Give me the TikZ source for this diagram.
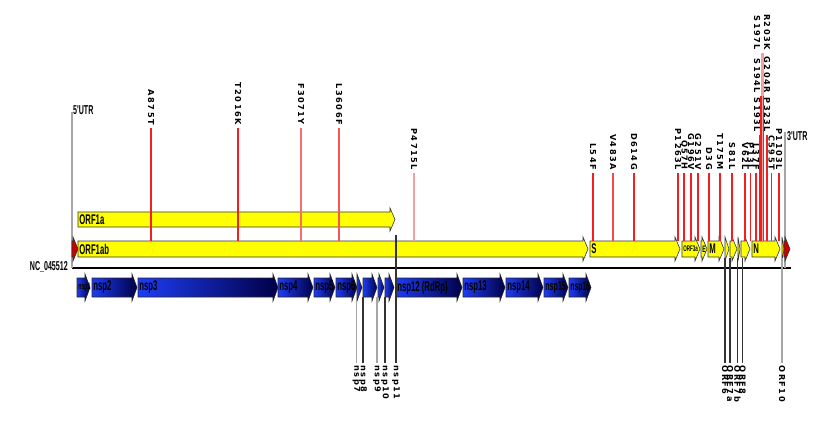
\documentclass[tikz,border=0pt]{standalone}
\usepackage{fontspec}
\setmainfont{Liberation Sans}
\newfontfamily\genefont[FakeStretch=0.55]{Liberation Sans}
\newfontfamily\mutfont[LetterSpace=18]{DejaVu Sans}
\usetikzlibrary{calc}
\definecolor{geneyellow}{RGB}{255,255,0}
\definecolor{nsplight}{RGB}{30,60,245}
\definecolor{nspdark}{RGB}{0,0,70}
\definecolor{mutred}{RGB}{245,30,30}
\definecolor{mutpink}{RGB}{242,160,160}
\definecolor{utrred}{RGB}{200,0,0}

% #1 name, #2 start, #3 end, #4 mid y, #5 half height, #6 style, #7 label
\newcommand{\genearrow}[7]{%
  \pgfmathsetmacro{\headx}{max(#2,#3-5)}
  \path[#6] (#2,#4-#5) -- (\headx,#4-#5) -- (\headx,#4-#5-4) -- (#3,#4)
    -- (\headx,#4+#5+4) -- (\headx,#4+#5) -- (#2,#4+#5) -- cycle;
  \node[genelab] (#1) at (#2,#4) {#7};
}

\begin{document}
\begin{tikzpicture}[
  x=0.03cm, y=-0.03cm,
  orf/.style={fill=geneyellow, draw=black!80, line width=0.5pt},
  nsp/.style={left color=nsplight, right color=nspdark, draw=black!85, line width=0.5pt},
  utr/.style={fill=utrred, draw=black!80, line width=0.5pt},
  genelab/.style={anchor=west, inner sep=1pt, font=\genefont\bfseries\fontsize{12}{12}\selectfont},
  mutlab/.style={rotate=-90, anchor=east, inner sep=2.5pt, font=\mutfont\bfseries\fontsize{7}{7}\selectfont},
  downlab/.style={rotate=-90, anchor=west, inner sep=2pt, font=\mutfont\bfseries\fontsize{7}{7}\selectfont},
  mutline/.style={draw=mutred, line width=1.2pt},
  pinkline/.style={draw=mutpink, line width=1.2pt},
  lowline/.style={draw=black!80, line width=0.9pt},
  greyline/.style={draw=black!35, line width=0.9pt},
  utrlab/.style={inner sep=0pt, font=\genefont\bfseries\fontsize{11}{11}\selectfont}
]
  \useasboundingbox (0,0) rectangle (832,435);

  \coordinate (bartop) at (0,241);
  \coordinate (barbot) at (0,258);
  \coordinate (nspbot) at (0,297);
  \coordinate (gstart) at (72,268);
  \coordinate (gend) at (791,268);

  % genome line
  \draw[line width=1.6pt] (gstart) -- (gend);
  \node[utrlab, anchor=east] (acc) at (68,267) {NC\_045512};

  % UTR markers
  \coordinate (utr5top) at (72,112);
  \coordinate (utr3top) at (785,132);
  \draw[greyline] (utr5top) -- (utr5top |- gstart);
  \draw[greyline] (utr3top) -- (utr3top |- gstart);
  \node[utrlab, anchor=base west] (utr5lab) at (73,114) {5'UTR};
  \node[utrlab, anchor=base west] (utr3lab) at (787,140) {3'UTR};

  % ORFs
  \genearrow{utr5}{72}{78}{249}{8}{utr}{}
  \genearrow{orf1ab}{78}{588}{249}{8}{orf}{ORF1ab}
  \genearrow{orf1a}{78}{395}{219.5}{7.5}{orf}{ORF1a}
  \genearrow{s}{590}{680}{249}{8}{orf}{S}
  \genearrow{orf3a}{682}{700}{249}{8}{orf}{\fontsize{7}{7}\selectfont ORF3a}
  \genearrow{e}{701}{707}{249}{8}{orf}{\fontsize{8}{8}\selectfont E}
  \genearrow{m}{708}{724}{249}{8}{orf}{M}
  \genearrow{orf6}{725}{729}{249}{8}{orf}{}
  \genearrow{orf7a}{730}{737}{249}{8}{orf}{}
  \genearrow{orf7b}{738}{740}{249}{8}{orf}{}
  \genearrow{orf8}{741}{750}{249}{8}{orf}{}
  \genearrow{n}{752}{780}{249}{8}{orf}{N}
  \genearrow{orf10}{782}{784}{249}{8}{orf}{}
  \genearrow{utr3}{784}{790}{249}{8}{utr}{}

  % non-structural proteins
  \genearrow{nsp1}{77}{90}{287.5}{9.5}{nsp}{\fontsize{8}{8}\selectfont nsp1}
  \genearrow{nsp2}{92}{137}{287.5}{9.5}{nsp}{nsp2}
  \genearrow{nsp3}{138}{278}{287.5}{9.5}{nsp}{nsp3}
  \genearrow{nsp4}{278}{313}{287.5}{9.5}{nsp}{nsp4}
  \genearrow{nsp5}{314}{335}{287.5}{9.5}{nsp}{nsp5}
  \genearrow{nsp6}{336}{357}{287.5}{9.5}{nsp}{nsp6}
  \genearrow{nsp7}{357}{362}{287.5}{9.5}{nsp}{}
  \genearrow{nsp8}{363}{377}{287.5}{9.5}{nsp}{}
  \genearrow{nsp9}{378}{384}{287.5}{9.5}{nsp}{}
  \genearrow{nsp10}{385}{394}{287.5}{9.5}{nsp}{}
  \genearrow{nsp12}{396}{462}{287.5}{9.5}{nsp}{nsp12 (RdRp)}
  \genearrow{nsp13}{463}{505}{287.5}{9.5}{nsp}{nsp13}
  \genearrow{nsp14}{506}{543}{287.5}{9.5}{nsp}{nsp14}
  \genearrow{nsp15}{544}{568}{287.5}{9.5}{nsp}{\fontsize{11}{11}\selectfont nsp15}
  \genearrow{nsp16}{569}{591}{287.5}{9.5}{nsp}{\fontsize{10.5}{11}\selectfont nsp16}

  % mutations
  \node[mutlab] (a875t) at (151,128) {A875T};
  \node[mutlab] (t2016k) at (238,128) {T2016K};
  \node[mutlab] (f3071y) at (301,128) {F3071Y};
  \node[mutlab] (l3606f) at (339,128) {L3606F};
  \node[mutlab] (p4715l) at (414,173) {P4715L};
  \node[mutlab] (l54f) at (593,173) {L54F};
  \node[mutlab] (v483a) at (613,173) {V483A};
  \node[mutlab] (d614g) at (634,173) {D614G};
  \node[mutlab] (p1263l) at (678,173) {P1263L};
  \node[mutlab] (q57h) at (684,173) {Q57H};
  \node[mutlab] (g196v) at (691,173) {G196V};
  \node[mutlab] (g251v) at (698,173) {G251V};
  \node[mutlab] (d3g) at (709,173) {D3G};
  \node[mutlab] (t175m) at (720,173) {T175M};
  \node[mutlab] (s81l) at (732,173) {S81L};
  \node[mutlab] (v62l) at (745,173) {V62L};
  \node[mutlab] (p13l) at (750.5,173) {P13L};
  \node[mutlab] (l37f) at (756,173) {L37F};
  \node[mutlab] (c595t) at (771.5,173) {C595T};
  \node[mutlab] (p1103l) at (779,173) {P1103L};
  \node[mutlab] (s193l) at (757,135) {S193L};
  \node[mutlab] (p323l) at (767,135) {P323L};
  \node[mutlab] (s194l) at (757,96) {S194L};
  \node[mutlab] (g204r) at (767,96) {G204R};
  \node[mutlab] (s197l) at (757,53) {S197L};
  \node[mutlab] (r203k) at (767,53) {R203K};

  \draw[mutline] (a875t.east) -- (a875t.east |- bartop);
  \draw[mutline] (t2016k.east) -- (t2016k.east |- bartop);
  \draw[mutline, draw=mutred!65] (f3071y.east) -- (f3071y.east |- bartop);
  \draw[mutline, draw=mutred!75] (l3606f.east) -- (l3606f.east |- bartop);
  \draw[pinkline] (p4715l.east) -- (p4715l.east |- bartop);
  \draw[mutline] (l54f.east) -- (l54f.east |- bartop);
  \draw[mutline, draw=mutred!80] (v483a.east) -- (v483a.east |- bartop);
  \draw[mutline] (d614g.east) -- (d614g.east |- bartop);
  \draw[mutline] (p1263l.east) -- (p1263l.east |- bartop);
  \draw[mutline] (q57h.east) -- (q57h.east |- bartop);
  \draw[mutline] (g196v.east) -- (g196v.east |- bartop);
  \draw[mutline] (g251v.east) -- (g251v.east |- bartop);
  \draw[mutline] (d3g.east) -- (d3g.east |- bartop);
  \draw[mutline] (t175m.east) -- (t175m.east |- bartop);
  \draw[mutline] (s81l.east) -- (s81l.east |- bartop);
  \draw[mutline] (v62l.east) -- (v62l.east |- bartop);
  \draw[mutline] (p13l.east) -- (p13l.east |- bartop);
  \draw[mutline] (l37f.east) -- (l37f.east |- bartop);
  \draw[mutline] (c595t.east) -- (c595t.east |- bartop);
  \draw[mutline] (p1103l.east) -- (p1103l.east |- bartop);
  \draw[pinkline] ([xshift=4.3pt]s197l.east) -- ([xshift=4.3pt]s197l.east |- bartop);
  \draw[pinkline] ([xshift=-3pt]r203k.east) -- ([xshift=-3pt]r203k.east |- bartop);
  \draw[mutline] ([xshift=3.4pt]s194l.east) -- ([xshift=3.4pt]s194l.east |- bartop);
  \draw[mutline] ([xshift=-3pt]g204r.east) -- ([xshift=-3pt]g204r.east |- bartop);
  \draw[mutline] ([xshift=2.1pt]s193l.east) -- ([xshift=2.1pt]s193l.east |- bartop);
  \draw[mutline] (p323l.east) -- (p323l.east |- bartop);

  % cleavage products and accessory ORFs
  \coordinate (orf1aend) at (396,235);
  \node[downlab] (nsp7lab) at (356.5,363) {nsp7};
  \node[downlab] (nsp8lab) at (363,363) {nsp8};
  \node[downlab] (nsp9lab) at (377,363) {nsp9};
  \node[downlab] (nsp10lab) at (385,363) {nsp10};
  \node[downlab] (nsp11lab) at (396,363) {nsp11};
  \node[downlab] (orf6lab) at (725,363) {ORF6};
  \node[downlab] (orf7alab) at (730,363) {ORF7a};
  \node[downlab] (orf7blab) at (737.5,363) {ORF7b};
  \node[downlab] (orf8lab) at (742.5,363) {ORF8};
  \node[downlab] (orf10lab) at (782,363) {ORF10};

  \draw[greyline] (nsp7lab.west |- nspbot) -- (nsp7lab.west);
  \draw[lowline] (nsp8lab.west |- nspbot) -- (nsp8lab.west);
  \draw[greyline] (nsp9lab.west |- nspbot) -- (nsp9lab.west);
  \draw[lowline] (nsp10lab.west |- nspbot) -- (nsp10lab.west);
  \draw[lowline] (orf1aend) -- (nsp11lab.west);
  \draw[lowline] (orf6lab.west |- barbot) -- (orf6lab.west);
  \draw[lowline] (orf7alab.west |- barbot) -- (orf7alab.west);
  \draw[lowline] (orf7blab.west |- barbot) -- (orf7blab.west);
  \draw[lowline] (orf8lab.west |- barbot) -- (orf8lab.west);
  \draw[greyline] (orf10lab.west |- barbot) -- (orf10lab.west);
\end{tikzpicture}
\end{document}
